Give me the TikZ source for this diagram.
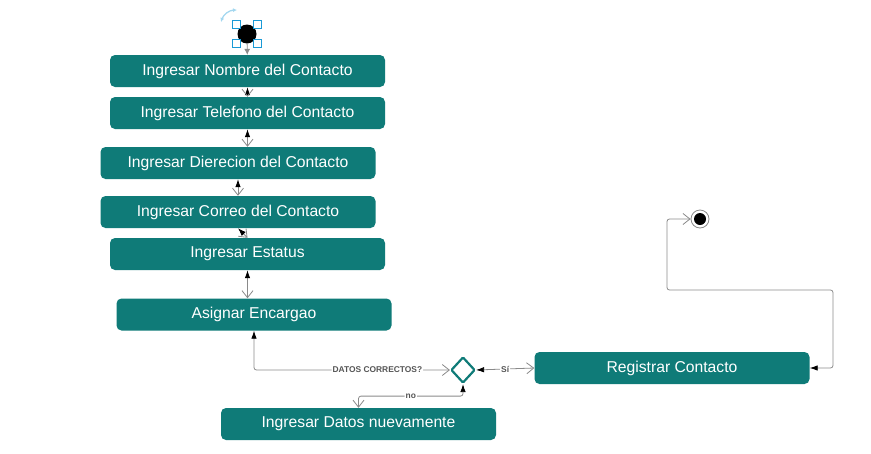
\documentclass[tikz,border=0pt]{standalone}
\usepackage{fontspec}
\setmainfont{Liberation Sans}
\usetikzlibrary{arrows.meta}
\usetikzlibrary{shapes.geometric}
\usetikzlibrary{calc}
\definecolor{mteal}{HTML}{0F7B78}
\definecolor{mgray}{HTML}{8A8A8A}
\definecolor{mdark}{HTML}{555555}
\definecolor{mhandle}{HTML}{1A9AD6}
\tikzset{paso/.style = {rectangle, rounded corners=5pt, fill=mteal, text=white,
                        minimum width=275pt, minimum height=32pt, inner sep=0pt,
                        font=\fontsize{15.7}{18}\selectfont}}
\tikzset{decision/.style = {diamond, aspect=1, draw=mteal, line width=2.2pt, fill=white,
                            minimum width=24pt, minimum height=26pt, inner sep=0pt,
                            rounded corners=1pt}}
\tikzset{flecha/.style = {draw=mgray, line width=0.8pt, rounded corners=2.5pt,
                          {Latex[length=8pt,width=5.5pt,color=black]}-{Straight Barb[length=7pt,width=11pt]}}}
\tikzset{etiqueta/.style = {fill=white, inner sep=1pt, text=mdark,
                            font=\fontsize{8.4}{9}\selectfont\bfseries}}

\begin{document}
\begin{tikzpicture}[x=1pt, y=-1pt]
    \useasboundingbox (0, 0) rectangle (871, 453);

    % actividades
    \node [paso] (nombre) at (247.5, 71) {Ingresar Nombre del Contacto};
    \node [paso] (telefono) at (247.5, 113) {Ingresar Telefono del Contacto};
    \node [paso] (direccion) at (238, 163) {Ingresar Dierecion del Contacto};
    \node [paso] (correo) at (238, 212) {Ingresar Correo del Contacto};
    \node [paso] (estatus) at (247.5, 254) {Ingresar Estatus};
    \node [paso] (asignar) at (254, 314.5) {Asignar Encargao};
    \node [paso] (registrar) at (672, 368) {Registrar Contacto};
    \node [paso] (repetir) at (358.5, 424) {Ingresar Datos nuevamente};
    \node [decision] (datos) at (463, 370) {};

    % inicio y fin
    \node [circle, fill=black, minimum size=19pt, inner sep=0pt] (inicio) at (247, 34) {};
    \foreach \dx in {-10.3, 10.3}
      \foreach \dy in {-9.7, 9.7}
        \draw [mhandle, fill=white, line width=1.1pt]
          ($(inicio) + (\dx, \dy) + (-4, -4)$) rectangle ++(8, 8);
    \draw [mhandle!40, line width=1.3pt, {Latex[length=4pt,width=4pt]}-{Latex[length=4pt,width=4pt]}]
      (221, 22) to [bend left=35] (237, 10);
    \node [circle, draw=mgray, fill=white, line width=0.8pt, minimum size=18pt, inner sep=0pt] (fin) at (700, 219) {};
    \fill [black] (fin) circle (6pt);

    \coordinate (vuelta) at (833, 290);
    \coordinate (subida) at (667, 219);

    % flujo
    \draw [mgray, line width=0.8pt, -{Latex[length=6pt,width=6pt]}] (inicio) -- (nombre);
    \draw [flecha] (nombre) -- (telefono);
    \draw [flecha] (telefono.south) -- (telefono.south |- direccion.north);
    \draw [flecha] (direccion) -- (correo);
    \draw [flecha] (correo.south) -- (estatus.north);
    \draw [flecha] (estatus.south) -- (estatus.south |- asignar.north);
    \draw [flecha] (asignar.south) |- (datos.west) node [etiqueta, pos=0.815] {DATOS CORRECTOS?};
    \draw [flecha] (datos.east) -- (registrar.west) node [etiqueta, midway] {Sí};
    \draw [flecha] (datos.south) -- ++(0, 12) -| (repetir.north) node [etiqueta, pos=0.25] {no};
    \draw [flecha] (registrar.east) -| (vuelta) -| (subida) -- (fin.west);
  \end{tikzpicture}
\end{document}
